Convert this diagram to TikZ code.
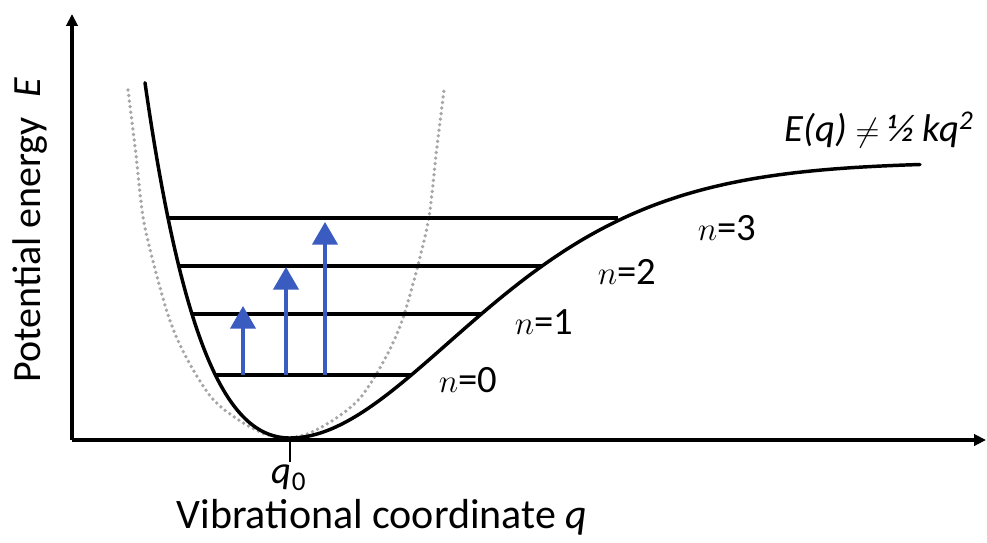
\documentclass[tikz,border=0pt]{standalone}
\usepackage{fontspec}
\setmainfont{Carlito}
\usetikzlibrary{arrows.meta}
\definecolor{arrowblue}{HTML}{3A5BC0}
\tikzset{
  axis/.style={line width=3.4pt,-{Triangle[length=9pt,width=8.5pt]}},
  curve/.style={line width=2.6pt,line cap=round},
  level/.style={line width=2.5pt},
  harm/.style={gray!70,line width=2.8pt,dash pattern=on 0pt off 4.2pt,line cap=round},
  excite/.style={arrowblue,line width=2.4pt,-{Triangle[length=17pt,width=19pt]}},
  lbl/.style={inner sep=0pt,font=\fontsize{29}{32}\selectfont},
}
\begin{document}
\begin{tikzpicture}[x=0.75pt,y=-0.75pt]
\useasboundingbox (0,0) rectangle (987,542);
% axes
\coordinate (O) at (72,440);
\coordinate (ytop) at (72,14);
\coordinate (xend) at (986,440);
% harmonic reference curve
\draw[harm] plot[smooth,tension=0.5] coordinates {(128,90) (136,155) (143,217) (154,265) (168,315) (180,345) (195,373) (211,397) (226,411) (245,424) (265,434) (286,438) (307,434) (327,424) (346,411) (361,397) (377,373) (392,345) (404,315) (418,265) (429,217) (436,155) (444,90)};
% Morse curve: left and right branches
\draw[curve] plot[domain=145:290,samples=60,smooth] (\x,{438-280*(1-exp(-0.0052*(\x-290)))^2})
  -- plot[domain=290:920,samples=120,smooth] (\x,{438-276*(1-exp(-(0.0046*(\x-290)+0.063*((\x-290)/100)^2)))^2});
% levels
\coordinate (l0a) at (215,375); \coordinate (l0b) at (411,375);
\coordinate (l1a) at (192,314); \coordinate (l1b) at (481,314);
\coordinate (l2a) at (179,266); \coordinate (l2b) at (543,266);
\coordinate (l3a) at (168,218); \coordinate (l3b) at (618,218);
\draw[level] (l0a) -- (l0b);
\draw[level] (l1a) -- (l1b);
\draw[level] (l2a) -- (l2b);
\draw[level] (l3a) -- (l3b);
% excitation arrows
\coordinate (a1s) at (243,375); \coordinate (a1e) at (243,306);
\coordinate (a2s) at (286,375); \coordinate (a2e) at (286,267);
\coordinate (a3s) at (325,375); \coordinate (a3e) at (325,222);
\draw[excite] (a1s) -- (a1e);
\draw[excite] (a2s) -- (a2e);
\draw[excite] (a3s) -- (a3e);
% axes on top
\draw[axis] (O) -- (ytop);
\draw[axis] (O) -- (xend);
% q0 tick
\coordinate (q0b) at (290,440);
\coordinate (q0t) at (290,462);
\draw[line width=1.2pt] (q0b) -- (q0t);
\node[lbl,anchor=north] (q0) at (289,465) {\itshape q\textsubscript{\upshape 0}};
% labels
\node[lbl] (n0) at (468,380) {$n$=0};
\node[lbl] (n1) at (544,322) {$n$=1};
\node[lbl] (n2) at (627,272) {$n$=2};
\node[lbl] (n3) at (727,228) {$n$=3};
\node[lbl] (eq) at (879,130) {\itshape E(q) \(\neq\) ½ kq\textsuperscript{2}};
\node[lbl,font=\fontsize{31.5}{34}\selectfont] (xl) at (382,517) {Vibrational coordinate \itshape q};
\node[lbl,font=\fontsize{30}{33}\selectfont,rotate=90] (yl) at (30,230) {Potential energy\enspace\itshape E};
\end{tikzpicture}
\end{document}
